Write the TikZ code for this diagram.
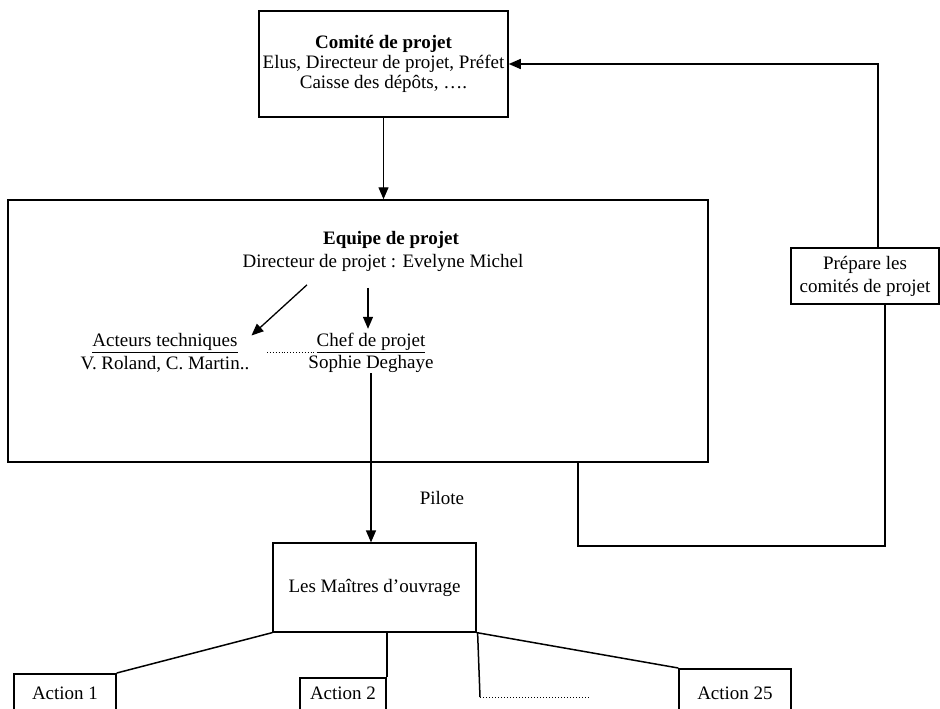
\documentclass[tikz,border=0pt]{standalone}
\usepackage{fontspec}
\setmainfont{Liberation Serif}
\usetikzlibrary{arrows.meta,calc}
\begin{document}
\begin{tikzpicture}[x=1pt,y=-1pt,
  box/.style={draw,line width=1.5pt,inner sep=0pt,align=center,font=\fontsize{19}{20}\selectfont},
  txt/.style={inner sep=0pt,align=center,font=\fontsize{19}{20}\selectfont},
  action/.style={box,anchor=north,text height=13pt,text depth=5pt},
  arr/.style={-{Triangle[length=12pt,width=10pt]},line width=1.3pt},
  conn/.style={line width=1.5pt}]
\useasboundingbox (0,0) rectangle (940,709);
\fill[white] (0,0) rectangle (940,709);

% Comite de projet
\node[box,minimum width=249pt,minimum height=106pt] (comite) at (383.5,64)
  {\textbf{Comité de projet}\\Elus, Directeur de projet, Préfet\\Caisse des dépôts, ….};

% Equipe de projet
\node[box,minimum width=700pt,minimum height=262pt] (equipe) at (358,331) {};
\node[txt,font=\fontsize{19}{20}\selectfont\bfseries] (eqtitle) at (391,240) {Equipe de projet};
\node[txt] (directeur) at (383,263) {Directeur de projet : Evelyne Michel};
\node[txt,font=\fontsize{19}{22.5}\selectfont] (acteurs) at (165,353) {\underline{Acteurs techniques}\\V. Roland, C. Martin..};
\node[txt,font=\fontsize{19}{22.5}\selectfont] (chef) at (371,353) {\underline{Chef de projet}\\Sophie Deghaye};
\coordinate (dotl) at (267,352);
\coordinate (dotr) at (316,352);
\draw[dotted,line width=0.9pt] (dotl) -- (dotr);

\draw[arr] ([xshift=-76pt,yshift=-13pt]directeur.south) -- ([xshift=2pt,yshift=-2pt]acteurs.north east);
\draw[arr] ([xshift=-15pt,yshift=-16pt]directeur.south) -- ([xshift=-3pt,yshift=4pt]chef.north);

% Prepare
\node[box,minimum width=148pt,minimum height=56pt,font=\fontsize{19}{23}\selectfont] (prepare) at (865,276)
  {Prépare les\\comités de projet};

% Maitres d'ouvrage
\node[box,line width=1.2pt,minimum width=203pt,minimum height=89pt] (maitres) at (374.5,587.5)
  {Les Maîtres d'ouvrage};

% Actions
\node[action,inner ysep=13pt,minimum width=102pt] (a1) at (65,673) {Action 1};
\node[action,inner ysep=9pt,minimum width=86pt] (a2) at (343,677) {Action 2};
\node[action,inner ysep=18pt,minimum width=112pt] (a25) at (735,668) {Action 25};

% Connectors
\draw[arr] (comite.south) -- (comite.south |- equipe.north);
\draw[conn] ([xshift=220pt]equipe.south) -- ++(0,83) -| ([xshift=20pt]prepare.south);
\draw[arr,line width=1.5pt] ([xshift=13pt]prepare.north) |- (comite.east);
\draw[arr] (chef.south) -- (chef.south |- maitres.north);
\node[txt] (pilote) at (442,498) {Pilote};

\draw[conn] (maitres.south west) -- (a1.north east);
\draw[conn] (maitres.south -| a2.north east) -- (a2.north east);
\draw[conn] (maitres.south east) -- (a25.north west);
\coordinate (dotstart) at (480,697);
\coordinate (dotend) at (589,697);
\draw[conn] ([xshift=1pt]maitres.south east) -- (dotstart);
\draw[dotted,line width=1pt] (dotstart) -- (dotend);
\end{tikzpicture}
\end{document}
